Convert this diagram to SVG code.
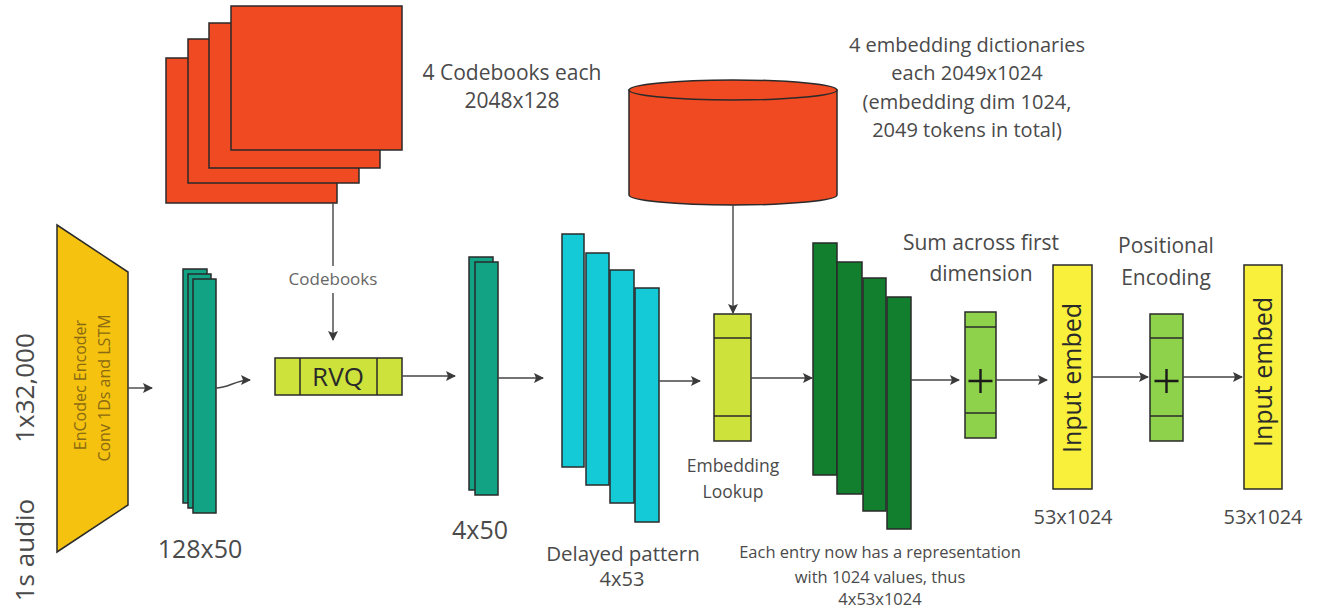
<svg xmlns="http://www.w3.org/2000/svg" width="1322" height="613" viewBox="0 0 1322 613">
<defs>
<marker id="ah" markerWidth="10" markerHeight="10" refX="9" refY="5" orient="auto" markerUnits="userSpaceOnUse">
<path d="M0,0 L10,5 L0,10 L2,5 Z" fill="#3a3a3a"/>
</marker>
</defs>
<style>
text{font-family:"Open Sans","Noto Sans","Liberation Sans",sans-serif;fill:#4a4a4a}
.sh{stroke:#2a2a2a;stroke-width:1.5}
.red{fill:#F04A23}
.teal{fill:#12A385}
.cyan{fill:#14CAD6}
.dg{fill:#117F2E}
.lime{fill:#CDE33B}
.lg{fill:#8ED14B}
.yel{fill:#F8F03A}
.conn{stroke:#444;stroke-width:1.4;fill:none}
.c{text-anchor:middle}
</style>
<rect width="1322" height="613" fill="#fff"/>

<g id="side-labels">
<text class="c" transform="translate(34,388) rotate(-90)" font-size="26">1x32,000</text>
<text class="c" transform="translate(34,550) rotate(-90)" font-size="26">1s audio</text>
</g>

<g id="encoder">
<path class="sh" d="M57,225 L128,272 L128,505 L57,552 Z" fill="#F4C20F"/>
<text class="c" transform="translate(86,385) rotate(-90)" font-size="16" style="fill:#8a6a12">EnCodec Encoder</text>
<text class="c" transform="translate(110,388) rotate(-90)" font-size="16" style="fill:#8a6a12">Conv 1Ds and LSTM</text>
</g>

<g id="latent128">
<rect class="sh teal" x="183" y="269" width="24" height="234"/>
<rect class="sh teal" x="188" y="274" width="23" height="234"/>
<rect class="sh teal" x="193" y="279" width="23" height="234"/>
<text class="c" x="200" y="558" font-size="25">128x50</text>
</g>

<g id="codebooks">
<rect class="sh red" x="166" y="58" width="171" height="145"/>
<rect class="sh red" x="188" y="39" width="171" height="144"/>
<rect class="sh red" x="209" y="23" width="171" height="145"/>
<rect class="sh red" x="231" y="6" width="171" height="144"/>
<text class="c" x="512" y="80" font-size="21">4 Codebooks each</text>
<text class="c" x="512" y="108" font-size="21">2048x128</text>
</g>

<g id="rvq">
<rect class="sh lime" x="275" y="358" width="127" height="37"/>
<line class="sh" x1="300" y1="358" x2="300" y2="395"/>
<line class="sh" x1="377" y1="358" x2="377" y2="395"/>
<text class="c" x="338" y="386" font-size="26" style="fill:#2a2a2a">RVQ</text>
</g>

<g id="codes4x50">
<rect class="sh teal" x="469" y="257" width="24" height="233"/>
<rect class="sh teal" x="475" y="262" width="23" height="233"/>
<text class="c" x="480" y="539" font-size="25">4x50</text>
</g>

<g id="delayed">
<rect class="sh cyan" x="562" y="234" width="22" height="233"/>
<rect class="sh cyan" x="586" y="253" width="23" height="232"/>
<rect class="sh cyan" x="610" y="270" width="24" height="233"/>
<rect class="sh cyan" x="635" y="288" width="24" height="234"/>
<text class="c" x="623" y="561" font-size="20.5">Delayed pattern</text>
<text class="c" x="622" y="586" font-size="20">4x53</text>
</g>

<g id="dictionaries">
<path class="sh red" d="M629,90 L629,195 A104,10 0 0 0 837,195 L837,90 Z"/>
<ellipse class="sh red" cx="733" cy="90" rx="104" ry="10"/>
<text class="c" x="967" y="52" font-size="20">4 embedding dictionaries</text>
<text class="c" x="967" y="80" font-size="20">each 2049x1024</text>
<text class="c" x="967" y="109" font-size="20">(embedding dim 1024,</text>
<text class="c" x="967" y="137" font-size="20">2049 tokens in total)</text>
</g>

<g id="lookup">
<rect class="sh lime" x="714" y="314" width="37" height="127"/>
<line class="sh" x1="714" y1="338" x2="751" y2="338"/>
<line class="sh" x1="714" y1="416" x2="751" y2="416"/>
<text class="c" x="733" y="472" font-size="17.5">Embedding</text>
<text class="c" x="733" y="498" font-size="17.5">Lookup</text>
</g>

<g id="embedded">
<rect class="sh dg" x="813" y="243" width="24" height="232"/>
<rect class="sh dg" x="837" y="262" width="25" height="232"/>
<rect class="sh dg" x="863" y="278" width="23" height="233"/>
<rect class="sh dg" x="887" y="297" width="24" height="232"/>
<text class="c" x="880" y="558" font-size="16.5">Each entry now has a representation</text>
<text class="c" x="880" y="583" font-size="16.5">with 1024 values, thus</text>
<text class="c" x="880" y="605" font-size="16.5">4x53x1024</text>
</g>

<g id="sum">
<rect class="sh lg" x="965" y="312" width="31" height="126"/>
<line class="sh" x1="965" y1="327" x2="996" y2="327"/>
<line class="sh" x1="965" y1="413" x2="996" y2="413"/>
<path d="M980.5,369 V393 M968.5,381 H992.5" stroke="#1a1a1a" stroke-width="2.4"/>
<text class="c" x="981" y="250" font-size="21">Sum across first</text>
<text class="c" x="981" y="281" font-size="21">dimension</text>
</g>

<g id="input-embed-1">
<rect class="sh yel" x="1053" y="265" width="39" height="224"/>
<text class="c" transform="translate(1081,378) rotate(-90)" font-size="25" style="fill:#2a2a2a">Input embed</text>
<text class="c" x="1073" y="524" font-size="20">53x1024</text>
</g>

<g id="posenc">
<rect class="sh lg" x="1150" y="314" width="33" height="127"/>
<line class="sh" x1="1150" y1="338" x2="1183" y2="338"/>
<line class="sh" x1="1150" y1="416" x2="1183" y2="416"/>
<path d="M1166.5,369 V393 M1154.5,381 H1178.5" stroke="#1a1a1a" stroke-width="2.4"/>
<text class="c" x="1166" y="253" font-size="21">Positional</text>
<text class="c" x="1166" y="285" font-size="21">Encoding</text>
</g>

<g id="input-embed-2">
<rect class="sh yel" x="1244" y="265" width="38" height="224"/>
<text class="c" transform="translate(1272,372) rotate(-90)" font-size="25" style="fill:#2a2a2a">Input embed</text>
<text class="c" x="1263" y="524" font-size="20">53x1024</text>
</g>

<g id="connectors">
<line class="conn" x1="128" y1="388" x2="152" y2="388" marker-end="url(#ah)"/>
<path class="conn" d="M216,388 C228,388 236,380 250,380" marker-end="url(#ah)"/>
<line class="conn" x1="333" y1="203" x2="333" y2="266" stroke="#777"/>
<text class="c" x="333" y="285" font-size="17" style="fill:#666">Codebooks</text>
<line class="conn" x1="333" y1="293" x2="333" y2="340" marker-end="url(#ah)"/>
<line class="conn" x1="402" y1="376" x2="455" y2="376" marker-end="url(#ah)"/>
<line class="conn" x1="498" y1="378" x2="543" y2="378" marker-end="url(#ah)"/>
<line class="conn" x1="659" y1="381" x2="700" y2="381" marker-end="url(#ah)"/>
<line class="conn" x1="733" y1="205" x2="733" y2="313" marker-end="url(#ah)"/>
<line class="conn" x1="751" y1="378" x2="812" y2="378" marker-end="url(#ah)"/>
<line class="conn" x1="911" y1="380" x2="959" y2="380" marker-end="url(#ah)"/>
<line class="conn" x1="996" y1="380" x2="1047" y2="380" marker-end="url(#ah)"/>
<line class="conn" x1="1092" y1="377" x2="1148" y2="377" marker-end="url(#ah)"/>
<line class="conn" x1="1183" y1="377" x2="1242" y2="377" marker-end="url(#ah)"/>
</g>
</svg>
